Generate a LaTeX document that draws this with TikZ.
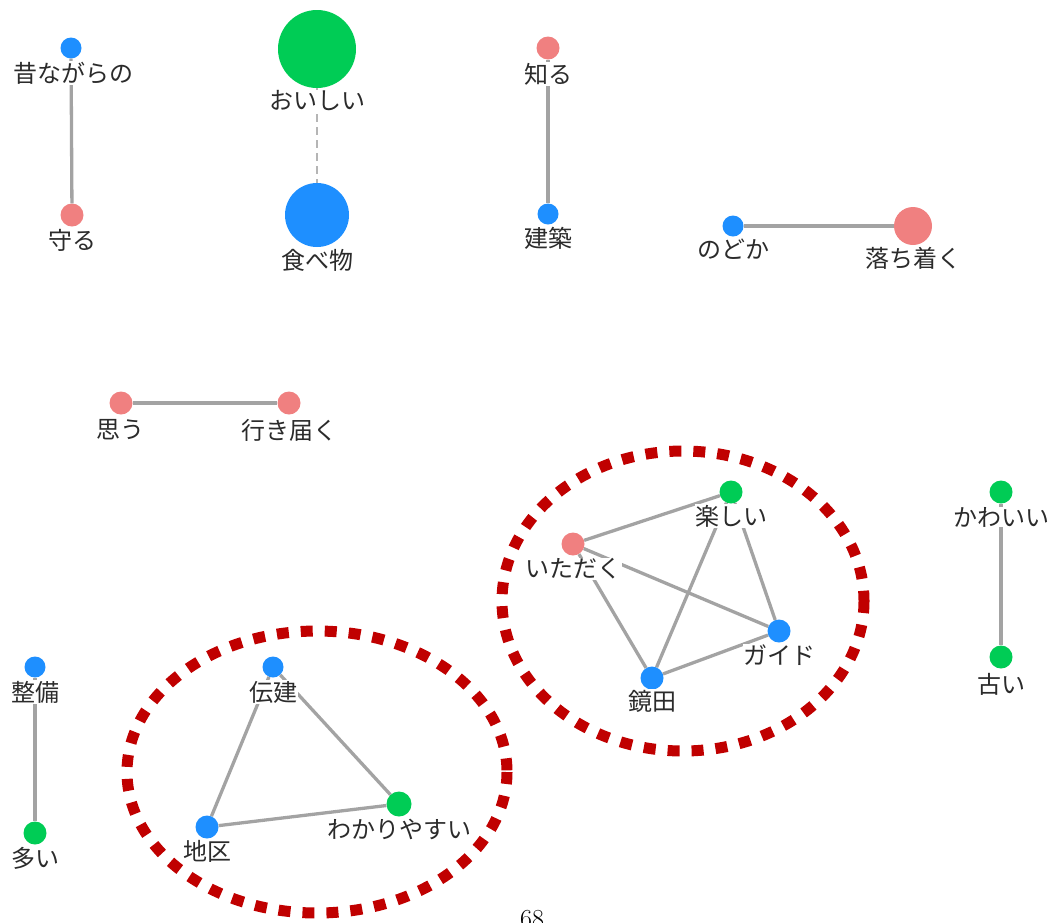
\documentclass[tikz,border=0pt]{standalone}
\usepackage{fontspec}
\newfontfamily\jpfont{Noto Sans CJK JP}
\definecolor{nblue}{HTML}{1E8FFF}
\definecolor{ngreen}{HTML}{00CC55}
\definecolor{npink}{HTML}{F08080}
\definecolor{egray}{HTML}{A3A3A3}
\definecolor{ringred}{HTML}{C00000}
\definecolor{txt}{HTML}{2B2B2B}
\tikzset{
  dot/.style={circle,inner sep=0pt,minimum size=#1},
  bdot/.style={dot=#1,fill=nblue},
  gdot/.style={dot=#1,fill=ngreen},
  pdot/.style={dot=#1,fill=npink},
  lab/.style={fill=white,inner sep=0.5pt,text=txt,font=\jpfont\fontsize{24}{26}\selectfont},
  edge/.style={draw=egray,line width=3.3pt},
  dedge/.style={draw=egray!80,line width=2pt,dash pattern=on 8pt off 5pt},
  ring/.style={draw=ringred,line width=11pt,dash pattern=on 12pt off 12pt}
}
\begin{document}
\begin{tikzpicture}[x=1pt,y=-1pt]
\useasboundingbox (0,0) rectangle (1056,922);
% rings
\draw[ring] (683,601) ellipse [x radius=181, y radius=150];
\draw[ring] (317,772) ellipse [x radius=190, y radius=141];
% dots
\node[bdot=21] (mukashi) at (71,48) {};
\node[pdot=23] (mamoru) at (72,215) {};
\node[gdot=78] (oishii) at (317,49) {};
\node[bdot=64] (tabemono) at (317,215) {};
\node[pdot=23] (shiru) at (548,48) {};
\node[bdot=21] (kenchiku) at (548,214) {};
\node[bdot=21] (nodoka) at (733,226) {};
\node[pdot=38] (ochitsuku) at (913,226) {};
\node[pdot=23] (omou) at (121,403) {};
\node[pdot=23] (ikitodoku) at (289,403) {};
\node[gdot=23] (tanoshii) at (731,492) {};
\node[pdot=23] (itadaku) at (573,544) {};
\node[bdot=23] (guide) at (779,631) {};
\node[bdot=23] (kagamida) at (652,678) {};
\node[gdot=23] (kawaii) at (1001,492) {};
\node[gdot=23] (furui) at (1001,657) {};
\node[bdot=21] (seibi) at (35,667) {};
\node[gdot=23] (ooi) at (35,833) {};
\node[bdot=21] (denken) at (273,667) {};
\node[bdot=23] (chiku) at (207,827) {};
\node[gdot=25] (wakari) at (399,804) {};
% edges
\draw[edge] (mukashi) -- (mamoru);
\draw[dedge] (oishii) -- (tabemono);
\draw[edge] (shiru) -- (kenchiku);
\draw[edge] (nodoka) -- (ochitsuku);
\draw[edge] (omou) -- (ikitodoku);
\draw[edge] (kawaii) -- (furui);
\draw[edge] (seibi) -- (ooi);
\draw[edge] (tanoshii) -- (itadaku);
\draw[edge] (tanoshii) -- (guide);
\draw[edge] (tanoshii) -- (kagamida);
\draw[edge] (itadaku) -- (guide);
\draw[edge] (itadaku) -- (kagamida);
\draw[edge] (kagamida) -- (guide);
\draw[edge] (denken) -- (chiku);
\draw[edge] (denken) -- (wakari);
\draw[edge] (chiku) -- (wakari);
% labels
\node[lab] (lmukashi) at (73,73) {昔ながらの};
\node[lab] (lmamoru) at (72,240) {守る};
\node[lab] (loishii) at (317,101) {おいしい};
\node[lab] (ltabemono) at (317,260) {食べ物};
\node[lab] (lshiru) at (548,74) {知る};
\node[lab] (lkenchiku) at (548,238) {建築};
\node[lab] (lnodoka) at (733,249) {のどか};
\node[lab] (lochitsuku) at (913,258) {落ち着く};
\node[lab] (lomou) at (120,430) {思う};
\node[lab] (likitodoku) at (289,430) {行き届く};
\node[lab] (ltanoshii) at (731,516) {楽しい};
\node[lab] (litadaku) at (573,569) {いただく};
\node[lab] (lguide) at (779,655) {ガイド};
\node[lab] (lkagamida) at (652,701) {鏡田};
\node[lab] (lkawaii) at (1001,517) {かわいい};
\node[lab] (lfurui) at (1001,684) {古い};
\node[lab] (lseibi) at (35,692) {整備};
\node[lab] (looi) at (35,858) {多い};
\node[lab] (ldenken) at (273,692) {伝建};
\node[lab] (lchiku) at (207,851) {地区};
\node[lab] (lwakari) at (399,829) {わかりやすい};
% page number (cut off by the page edge, as in the reference)
\node[anchor=north,inner sep=0pt,font=\fontsize{26}{30}\selectfont] (page) at (532,910) {68};
\end{tikzpicture}
\end{document}
